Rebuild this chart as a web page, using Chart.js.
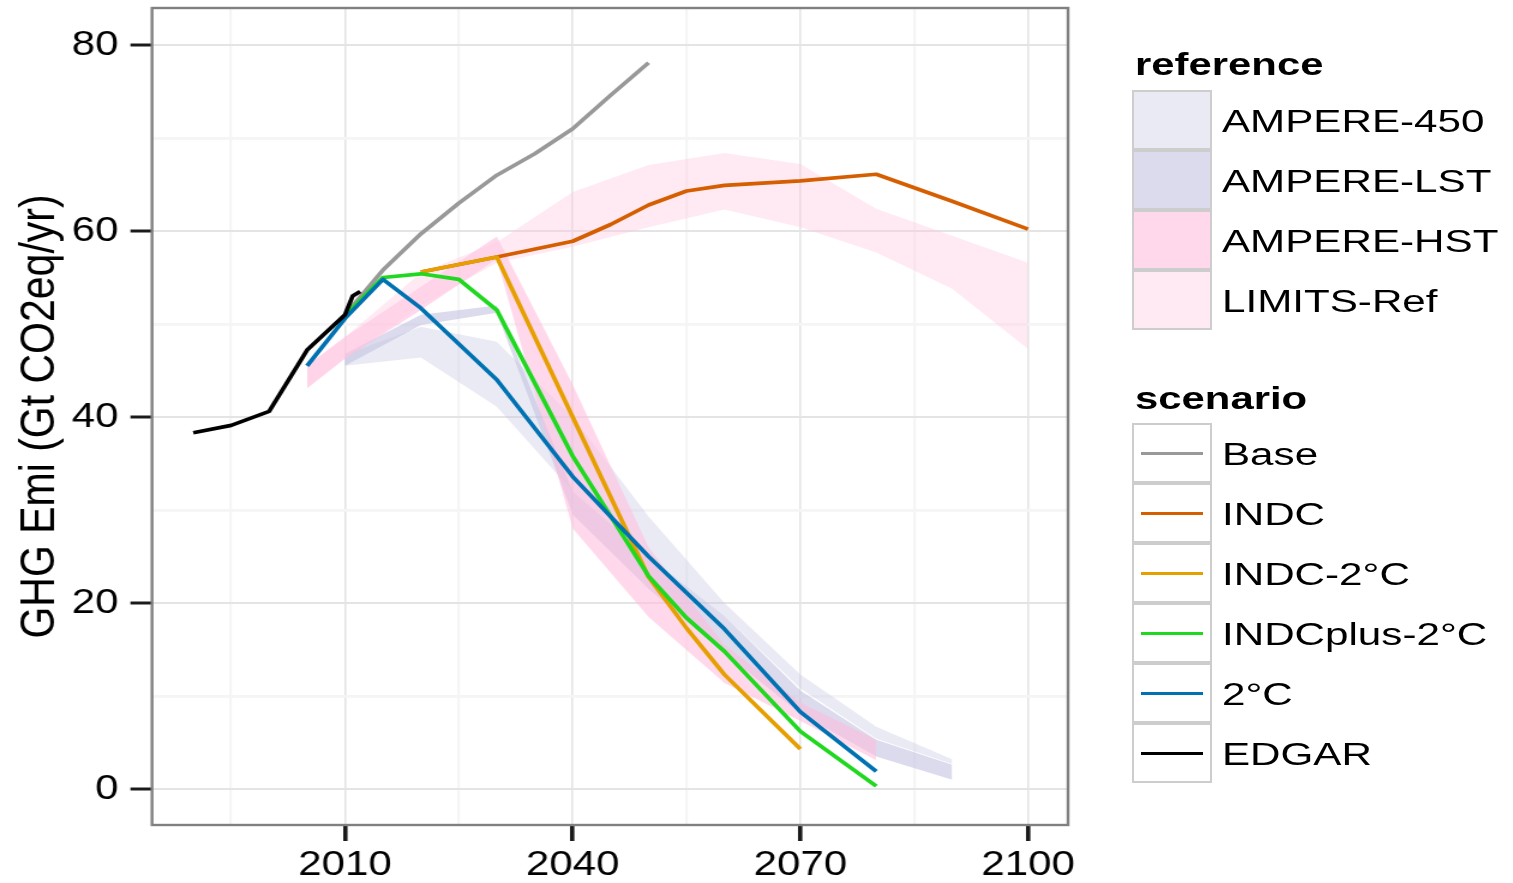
<!DOCTYPE html>
<html>
<head>
<meta charset="utf-8">
<script src="https://cdn.jsdelivr.net/npm/chart.js@4.4.1/dist/chart.umd.min.js"></script>
<style>
  html, body { margin: 0; padding: 0; background: #ffffff; }
  body { width: 1513px; height: 883px; position: relative; overflow: hidden;
         font-family: "Liberation Sans", Arial, sans-serif; color: #000; }
  #plot { position: absolute; left: 0; top: 0; width: 900px; height: 883px;
          transform: scaleX(1.2); transform-origin: 0 0; }
  #legend { position: absolute; left: 0; top: 0; width: 1513px; height: 883px; }
  .lg-title { position: absolute; left: 1135px; font-weight: bold; font-size: 31px;
              line-height: 34.6px; white-space: nowrap; transform: scaleX(1.35); transform-origin: 0 50%; }
  .lg-key { position: absolute; left: 1132px; width: 80px; height: 60px; box-sizing: border-box;
            border: 2px solid #CDCDCD; background: #ffffff; }
  .lg-fill { position: absolute; left: 0; top: 0; right: 0; bottom: 0; }
  .lg-line { position: absolute; left: 7px; width: 62px; height: 3px; top: 26.5px; }
  .lg-label { position: absolute; left: 1222px; height: 60px; line-height: 60px; font-size: 31px;
              white-space: nowrap; transform: scaleX(1.36); transform-origin: 0 50%; }
</style>
</head>
<body>
<div id="plot"><canvas id="chart" width="900" height="883"></canvas></div>
<div id="legend"></div>
<script>
// ---- Emission pathways (Gt CO2eq/yr) ----
const edgarYears = [1990, 1995, 2000, 2005, 2010, 2011, 2012];
const edgarValues = [38.3, 39.1, 40.6, 47.2, 51.0, 53.0, 53.5];

const baseYears = [2010, 2015, 2020, 2025, 2030, 2035, 2040, 2045, 2050];
const baseValues = [51.0, 55.8, 59.7, 63.0, 66.0, 68.3, 71.0, 74.6, 78.1];

const indcYears = [2020, 2030, 2040, 2045, 2050, 2055, 2060, 2070, 2080, 2090, 2100];
const indcValues = [55.6, 57.2, 58.9, 60.7, 62.8, 64.3, 64.9, 65.4, 66.1, 63.2, 60.2];

const indc2cYears = [2020, 2030, 2040, 2050, 2055, 2060, 2070];
const indc2cValues = [55.6, 57.2, 40.0, 22.8, 17.3, 12.3, 4.3];

const indcPlusYears = [2010, 2015, 2020, 2025, 2030, 2040, 2050, 2055, 2060, 2070, 2080];
const indcPlusValues = [50.9, 55.0, 55.4, 54.8, 51.5, 35.8, 22.9, 18.4, 14.8, 6.2, 0.3];

const twoDegYears = [2005, 2010, 2015, 2020, 2030, 2040, 2050, 2060, 2070, 2080];
const twoDegValues = [45.5, 50.6, 54.8, 51.7, 44.0, 33.6, 25.0, 17.2, 8.3, 1.9];

// ---- Reference scenario ranges (low / high) ----
const ampere450Years = [2010, 2020, 2030, 2040, 2050, 2060, 2070, 2080, 2090];
const ampere450Low   = [45.5, 46.4, 41.1, 32.0, 25.0, 18.6, 10.8, 5.4, 2.7];
const ampere450High  = [46.7, 49.7, 48.1, 40.0, 29.3, 20.0, 12.3, 6.7, 3.2];

const ampereLstYears = [2010, 2020, 2030, 2040, 2050, 2060, 2070, 2080, 2090];
const ampereLstLow   = [45.5, 49.9, 51.2, 29.5, 21.5, 14.6, 8.1, 3.5, 1.0];
const ampereLstHigh  = [46.8, 51.0, 52.0, 32.0, 25.0, 18.6, 10.6, 5.3, 2.6];

const ampereHstYears = [2005, 2010, 2020, 2030, 2040, 2050, 2060, 2070, 2080];
const ampereHstLow   = [43.1, 46.3, 51.5, 57.0, 28.0, 18.5, 11.4, 7.3, 3.1];
const ampereHstHigh  = [45.5, 48.6, 54.0, 59.4, 43.5, 26.0, 15.5, 9.3, 5.3];

const limitsYears = [2005, 2010, 2020, 2030, 2040, 2050, 2060, 2070, 2080, 2090, 2100];
const limitsLow   = [43.1, 46.3, 52.0, 56.6, 58.3, 60.4, 62.3, 60.4, 57.7, 53.8, 47.3];
const limitsHigh  = [45.5, 48.6, 55.5, 58.8, 64.2, 67.1, 68.4, 67.2, 62.4, 59.5, 56.6];

// ---- Axes ----
const xGridValues = [1995, 2010, 2025, 2040, 2055, 2070, 2085, 2100];
const xTickLabels = [2010, 2040, 2070, 2100];
const yGridValues = [0, 10, 20, 30, 40, 50, 60, 70, 80];
const yTickLabels = [0, 20, 40, 60, 80];
const yTitle = 'GHG Emi (Gt CO2eq/yr)';

const referenceNames = ['AMPERE-450', 'AMPERE-LST', 'AMPERE-HST', 'LIMITS-Ref'];
const referenceFills = ['rgba(200,200,230,0.38)', 'rgba(190,190,222,0.55)',
                        'rgba(255,190,220,0.58)', 'rgba(255,200,225,0.38)'];
const scenarioNames = ['Base', 'INDC', 'INDC-2°C', 'INDCplus-2°C', '2°C', 'EDGAR'];
const scenarioColors = ['#999999', '#D55E00', '#E69F00', '#1FD81F', '#0072B2', '#000000'];

// ---- Build datasets ----
const pts = (xs, ys) => xs.map((x, i) => ({ x: x, y: ys[i] }));

const ribbons = [
  [ampere450Years, ampere450Low, ampere450High],
  [ampereLstYears, ampereLstLow, ampereLstHigh],
  [ampereHstYears, ampereHstLow, ampereHstHigh],
  [limitsYears, limitsLow, limitsHigh]
];
const lines = [
  [baseYears, baseValues],
  [indcYears, indcValues],
  [indc2cYears, indc2cValues],
  [indcPlusYears, indcPlusValues],
  [twoDegYears, twoDegValues],
  [edgarYears, edgarValues]
];

const datasets = [];
ribbons.forEach((r, i) => {
  datasets.push({ label: referenceNames[i] + ' low', data: pts(r[0], r[1]),
    borderWidth: 0, pointRadius: 0, fill: false, borderColor: 'rgba(0,0,0,0)' });
  datasets.push({ label: referenceNames[i], data: pts(r[0], r[2]),
    borderWidth: 0, pointRadius: 0, fill: '-1', borderColor: 'rgba(0,0,0,0)',
    backgroundColor: referenceFills[i] });
});
lines.forEach((l, i) => {
  datasets.push({ label: scenarioNames[i], data: pts(l[0], l[1]),
    borderColor: scenarioColors[i], borderWidth: 3.7, pointRadius: 0, fill: false,
    tension: 0, borderJoinStyle: 'round', borderCapStyle: 'butt' });
});
// first listed is drawn first (underneath)
datasets.forEach((d, i) => { d.order = datasets.length - i; });

const panelBorder = {
  id: 'panelBorder',
  afterDatasetsDraw(chart) {
    const { ctx, chartArea: a } = chart;
    ctx.save();
    ctx.strokeStyle = '#808080';
    ctx.lineWidth = 2.4;
    ctx.strokeRect(a.left, a.top, a.right - a.left, a.bottom - a.top);
    ctx.restore();
  }
};

const tickFont = { family: '"Liberation Sans", Arial, sans-serif', size: 35 };

new Chart(document.getElementById('chart'), {
  type: 'line',
  data: { datasets: datasets },
  plugins: [panelBorder],
  options: {
    responsive: false,
    animation: false,
    events: [],
    layout: { padding: { left: 0, right: 10, top: 8, bottom: 0 } },
    plugins: { legend: { display: false }, tooltip: { enabled: false } },
    scales: {
      x: {
        type: 'linear',
        min: 1984.57, max: 2105.27,
        afterBuildTicks: (s) => { s.ticks = xGridValues.map(v => ({ value: v })); },
        afterFit: (s) => { s.height = 58; s.paddingLeft = 0; s.paddingRight = 0; },
        border: { display: false },
        grid: {
          color: (c) => (c.tick && xTickLabels.includes(c.tick.value)) ? '#E4E4E4' : '#F5F5F5',
          lineWidth: (c) => (c.tick && xTickLabels.includes(c.tick.value)) ? 1.6 : 2.3,
          tickColor: (c) => (c.tick && xTickLabels.includes(c.tick.value)) ? '#1a1a1a' : 'rgba(0,0,0,0)',
          tickWidth: 3.6,
          tickLength: 16,
          drawTicks: true
        },
        ticks: {
          autoSkip: false, maxRotation: 0, minRotation: 0, padding: 3,
          color: '#000', font: tickFont,
          callback: (v) => xTickLabels.includes(v) ? String(v) : ''
        }
      },
      y: {
        type: 'linear',
        min: -3.87, max: 83.98,
        afterBuildTicks: (s) => { s.ticks = yGridValues.map(v => ({ value: v })); },
        afterFit: (s) => { s.width = 126.67; s.paddingTop = 0; s.paddingBottom = 0; },
        border: { display: false },
        grid: {
          color: (c) => (c.tick && yTickLabels.includes(c.tick.value)) ? '#E4E4E4' : '#F5F5F5',
          lineWidth: (c) => (c.tick && yTickLabels.includes(c.tick.value)) ? 2 : 2.8,
          tickColor: (c) => (c.tick && yTickLabels.includes(c.tick.value)) ? '#1a1a1a' : 'rgba(0,0,0,0)',
          tickWidth: 3,
          tickLength: 18,
          drawTicks: true
        },
        ticks: {
          autoSkip: false, padding: 10, color: '#000', font: tickFont,
          callback: (v) => yTickLabels.includes(v) ? String(v) : ''
        },
        title: {
          display: true, text: yTitle, color: '#000',
          font: { family: '"Liberation Sans", Arial, sans-serif', size: 41 },
          padding: { top: 8.7, bottom: 0 }
        }
      }
    }
  }
});

// ---- Legend ----
const legendEl = document.getElementById('legend');
function addEl(cls, css, text) {
  const d = document.createElement('div');
  d.className = cls;
  Object.assign(d.style, css);
  if (text !== undefined) d.textContent = text;
  legendEl.appendChild(d);
  return d;
}
addEl('lg-title', { top: '48px' }, 'reference');
referenceNames.forEach((name, i) => {
  const top = 90 + i * 60;
  const key = addEl('lg-key', { top: top + 'px' });
  const f = document.createElement('div');
  f.className = 'lg-fill';
  f.style.background = referenceFills[i];
  key.appendChild(f);
  addEl('lg-label', { top: (top + 2) + 'px' }, name);
});
addEl('lg-title', { top: '382px' }, 'scenario');
scenarioNames.forEach((name, i) => {
  const top = 423 + i * 60;
  const key = addEl('lg-key', { top: top + 'px' });
  const ln = document.createElement('div');
  ln.className = 'lg-line';
  ln.style.background = scenarioColors[i];
  key.appendChild(ln);
  addEl('lg-label', { top: (top + 2) + 'px' }, name);
});
</script>
</body>
</html>
